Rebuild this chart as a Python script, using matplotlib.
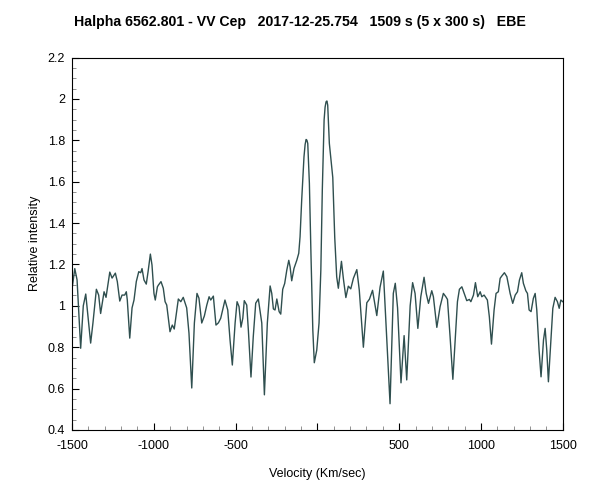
#vvcep_halpha.py

import matplotlib
matplotlib.use('Agg')
import matplotlib.pyplot as plt
from matplotlib.ticker import MultipleLocator, FixedLocator

plt.rcParams['font.family'] = ['Liberation Sans', 'DejaVu Sans']

#velocity (km/s)
velocity = [
    -1500, -1483, -1469, -1447, -1431, -1416, -1402, -1386, -1372, -1351,
    -1337, -1325, -1304, -1292, -1269, -1255, -1235, -1223, -1208, -1194,
    -1178, -1168, -1162, -1147, -1133, -1121, -1107, -1092, -1080, -1072,
    -1060, -1046, -1035, -1021, -1011, -999, -991, -978, -972, -956,
    -942, -931, -921, -901, -887, -875, -850, -835, -820, -799,
    -785, -768, -752, -736, -724, -707, -691, -676, -662, -652,
    -636, -620, -605, -591, -565, -548, -534, -520, -503, -491,
    -479, -467, -456, -447, -432, -422, -406, -392, -377, -361,
    -340, -324, -306, -289, -279, -269, -259, -248, -234, -224,
    -212, -200, -187, -175, -167, -157, -143, -126, -114, -106,
    -96, -82, -75, -69, -64, -59, -49, -39, -28, -19,
    -4, 10, 21, 30, 41, 47, 53, 58, 63, 73,
    94, 106, 118, 128, 147, 159, 174, 189, 204, 220,
    241, 256, 281, 302, 318, 337, 363, 383, 403, 424,
    444, 464, 476, 490, 511, 530, 546, 567, 582, 597,
    614, 632, 652, 665, 679, 699, 709, 730, 750, 770,
    785, 795, 811, 828, 842, 856, 868, 883, 897, 913,
    929, 938, 954, 966, 980, 995, 1005, 1019, 1039, 1051,
    1064, 1080, 1092, 1106, 1117, 1127, 1143, 1158, 1178, 1194,
    1209, 1223, 1235, 1249, 1259, 1274, 1284, 1294, 1306, 1320,
    1331, 1341, 1355, 1367, 1382, 1392, 1402, 1412, 1427, 1439,
    1453, 1467, 1478, 1488, 1500,
]

#relative intensity
intensity = [
    1.08, 1.18, 1.125, 0.795, 1.00, 1.057, 0.947, 0.82, 0.917, 1.08,
    1.052, 0.963, 1.068, 1.041, 1.163, 1.134, 1.158, 1.117, 1.023, 1.052,
    1.052, 1.068, 1.028, 0.844, 0.99, 1.028, 1.117, 1.165, 1.16, 1.18,
    1.125, 1.105, 1.165, 1.25, 1.197, 1.06, 1.028, 1.092, 1.10, 1.117,
    1.085, 1.02, 1.004, 0.875, 0.907, 0.888, 1.033, 1.02, 1.041, 0.99,
    0.868, 0.603, 0.917, 1.06, 1.037, 0.917, 0.951, 1.004, 1.044, 1.028,
    1.047, 0.907, 0.918, 0.94, 1.028, 0.98, 0.835, 0.714, 0.917, 1.02,
    0.996, 0.897, 0.94, 1.025, 1.004, 0.883, 0.656, 0.851, 1.013, 1.033,
    0.917, 0.57, 0.917, 1.096, 1.06, 0.985, 0.98, 1.033, 0.972, 0.96,
    1.08, 1.108, 1.173, 1.22, 1.189, 1.121, 1.181, 1.22, 1.254, 1.334,
    1.511, 1.72, 1.78, 1.804, 1.80, 1.785, 1.592, 1.237, 0.883, 0.725,
    0.786, 0.917, 1.173, 1.56, 1.898, 1.96, 1.986, 1.99, 1.97, 1.785,
    1.62, 1.33, 1.14, 1.085, 1.215, 1.13, 1.04, 1.095, 1.082, 1.133,
    1.175, 1.076, 0.80, 1.015, 1.032, 1.075, 0.953, 1.09, 1.168, 0.843,
    0.527, 1.06, 1.109, 0.99, 0.628, 0.856, 0.642, 1.0, 1.112, 1.06,
    0.891, 1.044, 1.138, 1.06, 1.012, 1.073, 1.044, 0.896, 0.996, 1.06,
    1.044, 1.031, 0.851, 0.645, 0.835, 1.02, 1.08, 1.092, 1.06, 1.025,
    1.031, 1.02, 1.052, 1.112, 1.044, 1.068, 1.044, 1.052, 1.028, 0.947,
    0.815, 0.98, 1.06, 1.068, 1.133, 1.144, 1.16, 1.141, 1.06, 1.012,
    1.052, 1.068, 1.125, 1.16, 1.109, 1.073, 1.06, 0.98, 0.972, 1.036,
    1.06, 0.98, 0.786, 0.657, 0.835, 0.891, 0.786, 0.633, 0.835, 0.988,
    1.041, 1.02, 0.988, 1.028, 1.02,
]

xticks = [-1500, -1000, -500, 0, 500, 1000, 1500]
xticklabels = ['-1500', '-1000', '-500', '', '500', '1000', '1500']
yticks = [0.4, 0.6, 0.8, 1.0, 1.2, 1.4, 1.6, 1.8, 2.0, 2.2]
yticklabels = ['0.4', '0.6', '0.8', '1', '1.2', '1.4', '1.6', '1.8', '2', '2.2']

fig = plt.figure(figsize=(6, 5), dpi=100)
ax = fig.add_axes([0.12, 0.14, 0.818, 0.745])
ax.plot(velocity, intensity, color='#2F4F4F', linewidth=1.0,
        solid_joinstyle='round')

ax.set_xlim(-1500, 1500)
ax.set_ylim(0.4, 2.2)
ax.xaxis.set_major_locator(FixedLocator(xticks))
ax.set_xticklabels(xticklabels)
ax.xaxis.set_minor_locator(MultipleLocator(100))
ax.yaxis.set_major_locator(FixedLocator(yticks))
ax.set_yticklabels(yticklabels)
ax.yaxis.set_minor_locator(MultipleLocator(0.05))
ax.tick_params(which='both', direction='in', top=False, right=False, labelsize=9)
ax.tick_params(which='major', length=5, width=0.8)
ax.tick_params(which='minor', length=3, width=0.6, color='#808080')
ax.tick_params(axis='x', pad=7)
ax.tick_params(axis='y', pad=5)

ax.set_xlabel('Velocity (Km/sec)', fontsize=9, labelpad=12)
ax.set_ylabel('Relative intensity', fontsize=9, labelpad=5)
fig.text(0.5, 1 - 22/500., 'Halpha 6562.801 - VV Cep   2017-12-25.754   1509 s (5 x 300 s)   EBE',
         ha='center', va='center', fontsize=10.2, fontweight='bold')

fig.savefig('out.png', dpi=100)
